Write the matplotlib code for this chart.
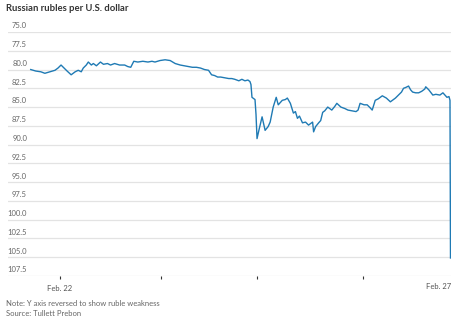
import matplotlib.pyplot as plt
import matplotlib.transforms as mtransforms

# time in days from Feb. 22, rubles per dollar
days = [-0.29, -0.24, -0.19, -0.15, -0.10, -0.05, -0.02, 0.01, 0.04, 0.07,
        0.11, 0.15, 0.18, 0.21, 0.23, 0.26, 0.28, 0.31, 0.33, 0.36,
        0.40, 0.43, 0.47, 0.50, 0.54, 0.59, 0.64, 0.67, 0.70, 0.73,
        0.77, 0.82, 0.87, 0.91, 0.94, 0.99, 1.04, 1.09, 1.14, 1.19,
        1.23, 1.27, 1.31, 1.35, 1.39, 1.43, 1.47, 1.50, 1.53, 1.56,
        1.59, 1.63, 1.67, 1.70, 1.73, 1.77, 1.80, 1.83, 1.86, 1.88,
        1.89, 1.90, 1.93, 1.94, 1.95, 1.97, 2.00, 2.03, 2.06, 2.08,
        2.11, 2.14, 2.16, 2.20, 2.23, 2.25, 2.28, 2.31, 2.33, 2.35,
        2.37, 2.40, 2.43, 2.46, 2.50, 2.51, 2.53, 2.56, 2.58, 2.60,
        2.62, 2.65, 2.67, 2.69, 2.72, 2.74, 2.78, 2.82, 2.85, 2.89,
        2.93, 2.95, 2.97, 3.01, 3.04, 3.07, 3.09, 3.12, 3.15, 3.19,
        3.23, 3.27, 3.30, 3.32, 3.35, 3.38, 3.40, 3.42, 3.45, 3.47,
        3.49, 3.52, 3.55, 3.58, 3.61, 3.62, 3.65, 3.69, 3.72, 3.76,
        3.79, 3.81, 3.83, 3.85, 3.86, 3.865]
rubles = [80.0, 80.2, 80.3, 80.5, 80.3, 80.1, 79.8, 79.4, 79.8, 80.2,
          80.7, 80.3, 80.1, 80.3, 79.8, 79.4, 79.0, 79.4, 79.2, 79.5,
          79.0, 79.3, 79.2, 79.4, 79.2, 79.4, 79.4, 79.6, 79.7, 78.9,
          79.0, 78.9, 79.0, 78.9, 79.0, 78.8, 78.7, 78.8, 79.2, 79.4,
          79.5, 79.6, 79.7, 79.7, 79.8, 80.0, 80.1, 80.7, 80.8, 81.0,
          81.0, 81.1, 81.2, 81.2, 81.3, 81.5, 81.3, 81.5, 81.4, 81.6,
          82.0, 83.7, 84.0, 86.0, 89.2, 88.0, 86.3, 88.1, 87.6, 87.0,
          85.0, 83.7, 84.7, 84.1, 84.0, 83.8, 84.5, 85.8, 85.6, 86.5,
          86.2, 87.1, 87.0, 87.4, 87.0, 88.3, 87.6, 87.1, 86.8, 85.7,
          85.5, 85.0, 85.2, 85.4, 84.9, 84.5, 85.0, 85.2, 85.4, 85.5,
          85.6, 85.4, 84.5, 84.7, 84.7, 85.1, 85.4, 84.1, 83.9, 83.5,
          83.8, 84.3, 84.0, 83.8, 83.4, 83.0, 82.5, 82.4, 82.2, 82.7,
          83.0, 83.1, 83.1, 82.9, 82.6, 82.3, 82.7, 83.4, 83.3, 83.4,
          83.1, 83.4, 83.7, 83.6, 84.1, 105.1]
yticks = [75.0, 77.5, 80.0, 82.5, 85.0, 87.5, 90.0, 92.5, 95.0, 97.5,
          100.0, 102.5, 105.0, 107.5]
xticks = [0, 1, 1.95, 3.0]
xlabels = ['Feb. 22', '', '', '']

plt.rcParams['font.family'] = ['Lato', 'DejaVu Sans']

fig = plt.figure(figsize=(4.68, 3.26), dpi=100)
ax = fig.add_axes([8/468, 1-276/326, 443/468, 244/326])

ax.plot(days, rubles, color='#1f7ab4', lw=1.0, solid_joinstyle='round')
ax.set_xlim(-0.515, 3.87)
ax.set_ylim(107.5, 75.0)

for v in yticks:
    ax.axhline(v, color='#e3e3e3', lw=0.9, zorder=0)
trans = mtransforms.blended_transform_factory(ax.transAxes, ax.transData)
for v in yticks:
    ax.text(0.043, v - 0.35, '%.1f' % v, transform=trans, ha='right', va='bottom',
            fontsize=5.5, color='#666666')

for s in ax.spines.values():
    s.set_visible(False)
ax.set_yticks([])
ax.set_xticks(xticks)
ax.set_xticklabels(xlabels)
ax.tick_params(axis='x', length=2.5, width=0.8, color='#333333', pad=4,
               labelsize=5.5, labelcolor='#555555')
ax.get_xticklines()[0].set_color('#aaaaaa')
ax.text(1.0, -0.028, 'Feb. 27', transform=ax.transAxes, ha='right', va='top',
        fontsize=5.5, color='#555555')

fig.text(6/468, 1-4/326, 'Russian rubles per U.S. dollar', ha='left', va='top',
         fontsize=6.8, fontweight='bold', color='#333333')
fig.text(6/468, 1-303/326, 'Note: Y axis reversed to show ruble weakness',
         ha='left', va='center', fontsize=5.5, color='#666666')
fig.text(6/468, 1-314/326, 'Source: Tullett Prebon',
         ha='left', va='center', fontsize=5.5, color='#666666')

fig.savefig('out.png', dpi=100)
